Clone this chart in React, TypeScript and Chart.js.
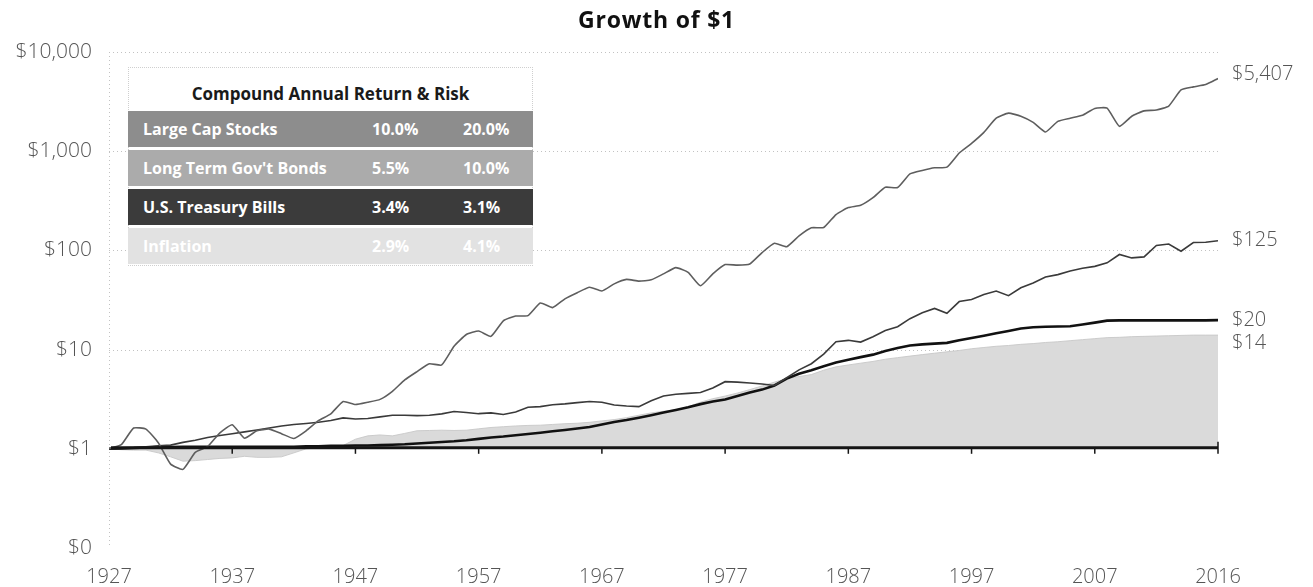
import React, { useEffect, useRef } from "react";
import { Chart, registerables } from "chart.js";

Chart.register(...registerables);

// Year-end values, 1926 (start = $1) through 2016
const years: number[] = Array.from({ length: 91 }, (_, i) => 1926 + i);

const largeCapStocks: number[] = [
  1.0, 1.1, 1.62, 1.58, 1.15, 0.7, 0.62, 0.92, 1.05, 1.45,
  1.75, 1.28, 1.52, 1.58, 1.42, 1.27, 1.52, 1.92, 2.25, 3.0,
  2.8, 2.95, 3.15, 3.8, 4.95, 6.0, 7.2, 7.0, 10.8, 14.2,
  15.4, 13.6, 19.5, 21.8, 22.0, 29.5, 26.5, 32.5, 37.5, 42.5,
  39.0, 46.0, 51.0, 49.0, 50.5, 58.0, 67.0, 60.0, 44.0, 58.0,
  72.0, 71.0, 73.0, 95.0, 118, 109, 140, 169, 170, 230,
  270, 285, 340, 433, 430, 590, 640, 680, 690, 960,
  1200, 1550, 2150, 2420, 2250, 1950, 1560, 2000, 2150, 2300,
  2700, 2720, 1780, 2250, 2550, 2600, 2850, 4150, 4450, 4700,
  5407,
];

const longTermBonds: number[] = [
  1.0, 1.02, 1.03, 1.05, 1.07, 1.09, 1.16, 1.22, 1.3, 1.36,
  1.42, 1.48, 1.55, 1.62, 1.7, 1.76, 1.8, 1.85, 1.93, 2.05,
  2.0, 2.02, 2.1, 2.18, 2.18, 2.16, 2.18, 2.25, 2.38, 2.32,
  2.26, 2.3, 2.22, 2.35, 2.62, 2.66, 2.78, 2.84, 2.92, 3.0,
  2.95, 2.76, 2.7, 2.66, 3.05, 3.4, 3.55, 3.62, 3.7, 4.1,
  4.75, 4.7, 4.6, 4.5, 4.35, 5.2, 6.25, 7.2, 9.0, 12.0,
  12.4, 11.9, 13.5, 15.6, 17.0, 20.5, 23.5, 26.0, 23.2, 30.5,
  32.0, 36.0, 39.0, 35.0, 42.0, 47.0, 54.0, 57.0, 62.0, 66.0,
  69.0, 75.0, 91.0, 84.0, 86.0, 112, 116, 98, 120, 121,
  125,
];

const treasuryBills: number[] = [
  1.0, 1.01, 1.02, 1.03, 1.04, 1.04, 1.05, 1.05, 1.05, 1.05,
  1.05, 1.05, 1.05, 1.05, 1.05, 1.05, 1.06, 1.06, 1.07, 1.07,
  1.08, 1.08, 1.09, 1.1, 1.11, 1.13, 1.15, 1.17, 1.19, 1.22,
  1.26, 1.3, 1.33, 1.37, 1.41, 1.45, 1.5, 1.55, 1.6, 1.66,
  1.76, 1.86, 1.95, 2.06, 2.18, 2.32, 2.46, 2.62, 2.82, 3.0,
  3.14, 3.4, 3.7, 3.95, 4.35, 5.1, 5.7, 6.2, 6.8, 7.4,
  7.9, 8.4, 8.9, 9.7, 10.4, 11.0, 11.3, 11.5, 11.7, 12.4,
  13.1, 13.8, 14.6, 15.4, 16.3, 16.8, 17.0, 17.1, 17.2, 17.9,
  18.7, 19.6, 19.7, 19.7, 19.7, 19.7, 19.7, 19.7, 19.7, 19.7,
  19.8,
];

const inflation: number[] = [
  1.0, 0.98, 0.97, 0.97, 0.91, 0.83, 0.75, 0.76, 0.78, 0.8,
  0.81, 0.84, 0.82, 0.82, 0.83, 0.91, 1.0, 1.03, 1.05, 1.08,
  1.25, 1.35, 1.38, 1.35, 1.43, 1.52, 1.53, 1.54, 1.53, 1.54,
  1.59, 1.64, 1.67, 1.7, 1.72, 1.73, 1.76, 1.79, 1.81, 1.85,
  1.91, 1.97, 2.06, 2.18, 2.3, 2.39, 2.47, 2.65, 2.95, 3.2,
  3.4, 3.65, 3.95, 4.3, 4.7, 5.1, 5.35, 5.6, 6.2, 6.7,
  7.0, 7.3, 7.6, 8.0, 8.3, 8.6, 8.9, 9.2, 9.5, 9.8,
  10.2, 10.5, 10.8, 11.0, 11.3, 11.5, 11.8, 12.0, 12.3, 12.6,
  12.9, 13.2, 13.3, 13.5, 13.6, 13.7, 13.8, 13.9, 14.0, 14.0,
  14.0,
];

const seriesNames: string[] = ["Large Cap Stocks", "Long Term Gov't Bonds", "U.S. Treasury Bills", "Inflation"];
const annualReturn: string[] = ["10.0%", "5.5%", "3.4%", "2.9%"];
const annualRisk: string[] = ["20.0%", "10.0%", "3.1%", "4.1%"];
const endLabels: string[] = ["$5,407", "$125", "$20", "$14"];

const yTickValues: number[] = [0.1, 1, 10, 100, 1000, 10000];
const yTickLabels: string[] = ["$0", "$1", "$10", "$100", "$1,000", "$10,000"];
const gridValues: number[] = [10, 100, 1000, 10000];
const xTickValues: number[] = [1926, 1936, 1946, 1956, 1966, 1976, 1986, 1996, 2006, 2016];
const xTickLabels: string[] = ["1927", "1937", "1947", "1957", "1967", "1977", "1987", "1997", "2007", "2016"];

const chartTitle = "Growth of $1";
const tableTitle = "Compound Annual Return & Risk";

const FONT = "'Open Sans', 'Noto Sans', sans-serif";
const rowColors = ["#8d8d8d", "#ababab", "#3b3b3b", "#e2e2e2"];

const titlePlugin = {
  id: "customTitle",
  afterDraw(chart: any) {
    const { ctx } = chart;
    ctx.save();
    ctx.font = `700 23px ${FONT}`;
    try {
      (ctx as any).letterSpacing = "0.8px";
    } catch (e) {}
    ctx.fillStyle = "#111";
    ctx.textAlign = "center";
    ctx.textBaseline = "middle";
    ctx.fillText(chartTitle, chart.width / 2, 21);
    ctx.restore();
  },
};

const gridPlugin = {
  id: "customGrid",
  beforeDatasetsDraw(chart: any) {
    const { ctx, chartArea, scales } = chart;
    ctx.save();
    ctx.strokeStyle = "#c2c2c2";
    ctx.lineWidth = 1;
    ctx.setLineDash([1, 3]);
    gridValues.forEach((v) => {
      const py = Math.round(scales.y.getPixelForValue(v)) + 0.5;
      ctx.beginPath();
      ctx.moveTo(chartArea.left, py);
      ctx.lineTo(chartArea.right, py);
      ctx.stroke();
    });
    ctx.beginPath();
    ctx.moveTo(chartArea.left + 0.5, chartArea.top);
    ctx.lineTo(chartArea.left + 0.5, chartArea.bottom);
    ctx.stroke();
    ctx.restore();
  },
};

const baselinePlugin = {
  id: "baseline",
  afterDatasetsDraw(chart: any) {
    const { ctx, chartArea, scales } = chart;
    const py = scales.y.getPixelForValue(1) - 1;
    ctx.save();
    ctx.strokeStyle = "#151515";
    ctx.lineWidth = 3;
    ctx.beginPath();
    ctx.moveTo(chartArea.left + 2, py);
    ctx.lineTo(chartArea.right, py);
    ctx.stroke();
    ctx.lineWidth = 1.5;
    xTickValues.forEach((v, i) => {
      if (i === 0) return;
      const px = scales.x.getPixelForValue(v);
      ctx.beginPath();
      ctx.moveTo(px, py - (i === xTickValues.length - 1 ? 6 : 0));
      ctx.lineTo(px, py + 6);
      ctx.stroke();
    });
    ctx.restore();
  },
};

const endLabelPlugin = {
  id: "endLabels",
  afterDraw(chart: any) {
    const { ctx, chartArea } = chart;
    ctx.save();
    ctx.font = `300 20px ${FONT}`;
    ctx.fillStyle = "#555";
    ctx.textAlign = "left";
    ctx.textBaseline = "middle";
    chart.data.datasets.forEach((_: any, i: number) => {
      const meta = chart.getDatasetMeta(i);
      const pt = meta.data[meta.data.length - 1];
      const shift = i === 0 ? -4 : i === 3 ? 8 : 0;
      ctx.fillText(endLabels[i], chartArea.right + 14, pt.y + shift);
    });
    ctx.restore();
  },
};

export default function App() {
  const canvasRef = useRef<HTMLCanvasElement | null>(null);

  useEffect(() => {
    if (!canvasRef.current) return;
    const toPoints = (arr: number[]) => years.map((yr, i) => ({ x: yr, y: arr[i] }));
    const xFont = { family: FONT, size: 20, weight: "300" as any };
    const yFont = { family: FONT, size: 21, weight: "300" as any };
    const chart = new Chart(canvasRef.current, {
      type: "line",
      data: {
        datasets: [
          {
            label: seriesNames[0],
            data: toPoints(largeCapStocks),
            borderColor: "#5e5e5e",
            borderWidth: 1.6,
            pointRadius: 0,
            fill: false,
            tension: 0.15,
          },
          {
            label: seriesNames[1],
            data: toPoints(longTermBonds),
            borderColor: "#3a3a3a",
            borderWidth: 1.6,
            pointRadius: 0,
            fill: false,
          },
          {
            label: seriesNames[2],
            data: toPoints(treasuryBills),
            borderColor: "#111",
            borderWidth: 2.6,
            pointRadius: 0,
            fill: false,
          },
          {
            label: seriesNames[3],
            data: toPoints(inflation),
            borderColor: "rgba(200,200,200,0.9)",
            borderWidth: 1,
            backgroundColor: "#dadada",
            pointRadius: 0,
            fill: { value: 1 },
          },
        ],
      },
      options: {
        animation: false,
        responsive: false,
        devicePixelRatio: 1,
        layout: { padding: { top: 52, right: 95, left: 0, bottom: 0 } },
        plugins: {
          legend: { display: false },
          title: { display: false },
          tooltip: { enabled: false },
        },
        scales: {
          x: {
            type: "linear",
            min: 1926,
            max: 2016,
            afterBuildTicks: (s: any) => {
              s.ticks = xTickValues.map((v) => ({ value: v }));
            },
            afterFit: (s: any) => {
              s.height = 39;
            },
            ticks: {
              autoSkip: false,
              maxRotation: 0,
              padding: 17,
              color: "#555",
              font: xFont,
              callback: (_v: any, i: number) => xTickLabels[i],
            },
            grid: { display: false, drawTicks: false },
            border: { display: false },
          },
          y: {
            type: "logarithmic",
            min: 0.1,
            max: 10000,
            afterBuildTicks: (s: any) => {
              s.ticks = yTickValues.map((v) => ({ value: v }));
            },
            afterFit: (s: any) => {
              s.width = 109;
            },
            ticks: {
              padding: 17,
              color: "#555",
              font: yFont,
              callback: (_v: any, i: number) => yTickLabels[i],
            },
            grid: { display: false, drawTicks: false },
            border: { display: false },
          },
        },
      },
      plugins: [gridPlugin, baselinePlugin, endLabelPlugin, titlePlugin],
    } as any);
    return () => chart.destroy();
  }, []);

  const rowTops = [111, 150, 189, 228];

  return (
    <div style={{ position: "absolute", left: 0, top: 0, width: 1313, height: 587, background: "#fff", overflow: "hidden" }}>
      <canvas ref={canvasRef} width={1313} height={587} style={{ width: 1313, height: 587, display: "block" }} />
      <div
        style={{
          position: "absolute",
          left: 128,
          top: 67,
          width: 405,
          height: 199,
          border: "1px dotted #cfcfcf",
          boxSizing: "border-box",
          background: "#fff",
        }}
      />
      <div
        style={{
          position: "absolute",
          left: 128,
          top: 82,
          width: 405,
          textAlign: "center",
          fontFamily: FONT,
          fontWeight: 700,
          fontSize: 17,
          color: "#1a1a1a",
          lineHeight: "24px",
        }}
      >
        {tableTitle}
      </div>
      {seriesNames.map((name, i) => (
        <div
          key={name}
          style={{
            position: "absolute",
            left: 128,
            top: rowTops[i],
            width: 405,
            height: 36,
            background: rowColors[i],
            fontFamily: FONT,
            fontWeight: 700,
            fontSize: 16,
            color: "#fff",
            lineHeight: "36px",
          }}
        >
          <span style={{ position: "absolute", left: 15 }}>{name}</span>
          <span style={{ position: "absolute", left: 244 }}>{annualReturn[i]}</span>
          <span style={{ position: "absolute", left: 335 }}>{annualRisk[i]}</span>
        </div>
      ))}
    </div>
  );
}
